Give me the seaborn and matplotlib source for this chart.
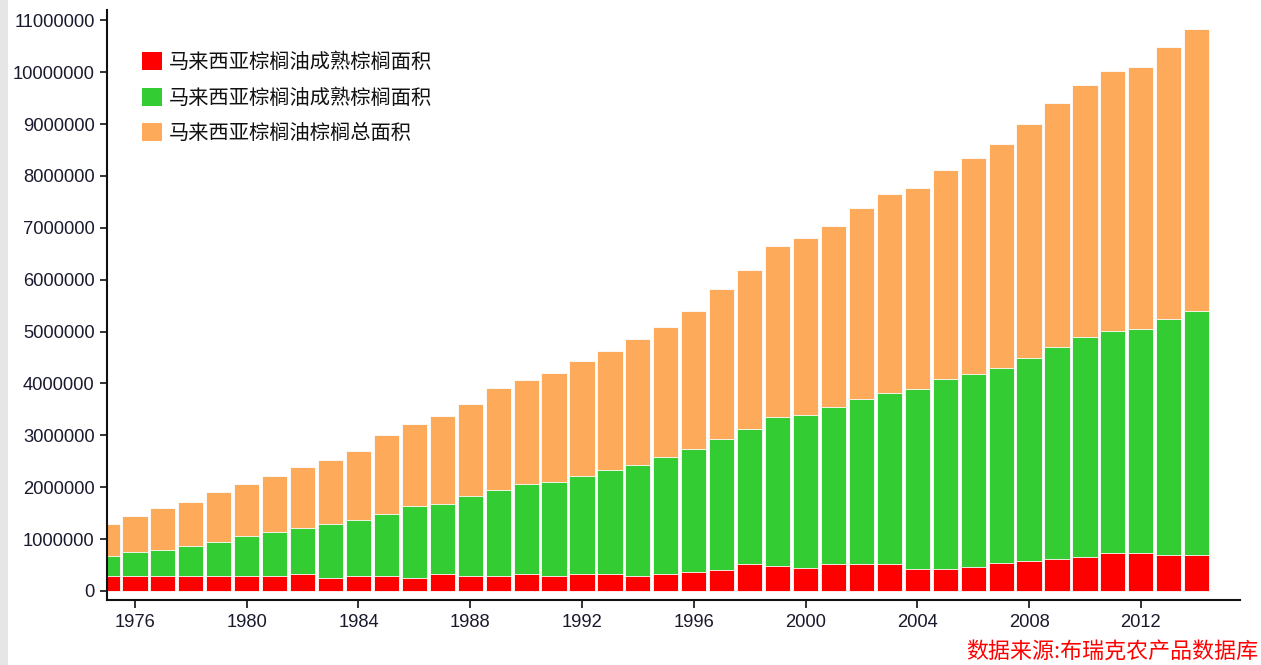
import matplotlib
matplotlib.use("Agg")
import matplotlib.pyplot as plt
import seaborn as sns
import pandas as pd
from matplotlib.patches import Patch, Rectangle

# ---- data (hectares) ----
years = list(range(1975, 2015))
total_area = [1290000, 1446000, 1600000, 1720000, 1915000, 2070000, 2225000, 2380000, 2530000, 2690000,
              3000000, 3227000, 3380000, 3610000, 3920000, 4075000, 4200000, 4430000, 4620000, 4855000,
              5085000, 5400000, 5830000, 6185000, 6650000, 6800000, 7030000, 7380000, 7650000, 7770000,
              8110000, 8350000, 8620000, 9010000, 9405000, 9750000, 10020000, 10100000, 10490000, 10840000]
mature_area = [675000, 746000, 790000, 868000, 945000, 1060000, 1138000, 1215000, 1290000, 1370000,
               1485000, 1640000, 1680000, 1830000, 1950000, 2064000, 2100000, 2225000, 2340000, 2420000,
               2575000, 2730000, 2925000, 3120000, 3350000, 3390000, 3540000, 3700000, 3810000, 3890000,
               4080000, 4190000, 4305000, 4500000, 4700000, 4890000, 5010000, 5050000, 5250000, 5400000]
red_area = [290000, 290000, 290000, 290000, 290000, 290000, 290000, 322000, 244000, 290000,
            285000, 250000, 320000, 283000, 283000, 320000, 283000, 320000, 320000, 283000,
            320000, 360000, 400000, 515000, 476000, 437000, 515000, 515000, 515000, 432000,
            428000, 460000, 533000, 580000, 615000, 656000, 730000, 730000, 700000, 700000]

labels = ["马来西亚棕榈油成熟棕榈面积", "马来西亚棕榈油成熟棕榈面积", "马来西亚棕榈油棕榈总面积"]
colors = ["#FF0000", "#33CC33", "#FDAA5A"]
xticks = list(range(1976, 2013, 4))
yticks = list(range(0, 11000001, 1000000))
source = "数据来源:布瑞克农产品数据库"

df = pd.DataFrame({"year": years, "total": total_area, "mature": mature_area, "red": red_area})

sns.set_theme(style="white")
plt.rcParams["font.family"] = ["Noto Sans CJK SC", "DejaVu Sans"]

fig = plt.figure(figsize=(12.61, 6.65), dpi=100)
fig.patches.append(Rectangle((0, 0), 8 / 1261, 1, transform=fig.transFigure,
                             facecolor="#e6e6e6", edgecolor="none", zorder=0))
ax = fig.add_axes([107 / 1261, 1 - 600 / 665, (1240 - 107) / 1261, 590 / 665])

for col, c in zip(["total", "mature", "red"], [colors[2], colors[1], colors[0]]):
    sns.barplot(data=df, x="year", y=col, native_scale=True, color=c, width=0.9,
                errorbar=None, saturation=1, ax=ax, edgecolor="white", linewidth=0.6)

ax.set_xlim(1975.0, 2015.55)
ax.set_ylim(-175000, 11200000)
ax.set_xticks(xticks)
ax.set_xticklabels([str(y) for y in xticks])
ax.set_yticks(yticks)
ax.set_yticklabels([str(v) for v in yticks])
ax.set_xlabel("")
ax.set_ylabel("")

for s in ["top", "right"]:
    ax.spines[s].set_visible(False)
for s in ["left", "bottom"]:
    ax.spines[s].set_color("#111111")
    ax.spines[s].set_linewidth(1.5)

ax.tick_params(axis="both", which="major", direction="out", length=5, width=1.2,
               color="#111111", labelsize=13.2, labelcolor="#1a1a2e", pad=4)
ax.tick_params(axis="x", which="major", bottom=True, length=6)
ax.tick_params(axis="y", which="major", left=True)
for lab in ax.get_xticklabels() + ax.get_yticklabels():
    lab.set_family(["Liberation Sans", "DejaVu Sans"])

handles = [Patch(facecolor=c, edgecolor="none") for c in colors]
leg = ax.legend(handles, labels, loc="upper left", bbox_to_anchor=(142 / 1261, 1 - 52 / 665),
                bbox_transform=fig.transFigure, frameon=False, fontsize=14.6,
                handlelength=1.0, handleheight=1.0, handletextpad=0.35,
                labelspacing=0.72, borderpad=0, borderaxespad=0)
for t in leg.get_texts():
    t.set_color("#111111")

fig.text(1258 / 1261, 1 - 652 / 665, source, color="#FF0000", fontsize=15.8,
         ha="right", va="center")

fig.savefig("out.png", dpi=100, facecolor="white")
